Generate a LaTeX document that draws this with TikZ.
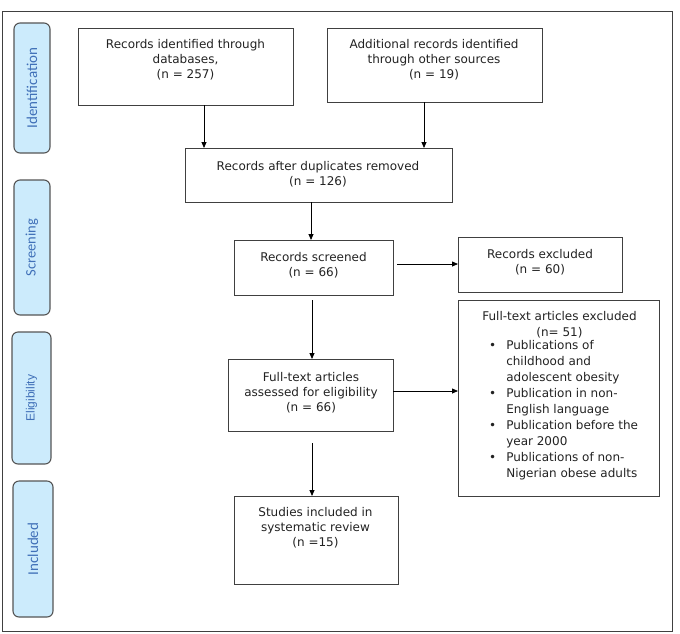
\documentclass[tikz,border=0pt]{standalone}
\usepackage{fontspec}
\setmainfont{DejaVu Sans}
\newfontfamily\calib{Carlito}
\newfontfamily\arialf{Liberation Sans}
\usetikzlibrary{arrows.meta}
\definecolor{txtc}{HTML}{222222}
\definecolor{boxc}{HTML}{404040}
\definecolor{lblfill}{HTML}{CCEBFC}
\definecolor{lbldraw}{HTML}{555555}
\definecolor{lbltxt}{HTML}{4070B8}
\begin{document}
\begin{tikzpicture}[x=1pt,y=-1pt,
  frame/.style={draw=boxc, line width=0.9pt},
  box/.style={draw=boxc, line width=0.9pt, inner sep=0, outer sep=0},
  txt/.style={align=center, font=\fontsize{12}{15}\selectfont, text=txtc, inner sep=0},
  lbl/.style={draw=lbldraw, fill=lblfill, line width=1.1pt, rounded corners=6pt, inner sep=0, outer sep=0},
  lbltext/.style={rotate=90, text=lbltxt, inner sep=0},
  arr/.style={-{Triangle[length=6pt,width=5pt]}, line width=0.8pt, black}]
\useasboundingbox (0,0) rectangle (680,633);
\draw[frame] (2,11) rectangle (672,631);

% stage labels
\node[lbl, minimum width=36pt, minimum height=130pt] (l1) at (32,88) {};
\node[lbltext, font=\calib\fontsize{15}{18}\selectfont] (l1t) at (l1.center) {Identification};
\node[lbl, minimum width=36pt, minimum height=135pt] (l2) at (32,247.5) {};
\node[lbltext, font=\calib\fontsize{14.5}{18}\selectfont] (l2t) at (l2.center) {Screening};
\node[lbl, minimum width=39pt, minimum height=132pt] (l3) at (31.5,398) {};
\node[lbltext, font=\arialf\fontsize{12}{14}\selectfont] (l3t) at (l3.center) {Eligibility};
\node[lbl, minimum width=40pt, minimum height=136pt] (l4) at (33,549) {};
\node[lbltext, font=\calib\fontsize{15}{18}\selectfont] (l4t) at (l4.center) {Included};

% boxes
\node[box, minimum width=215pt, minimum height=77pt] (b1) at (185.5,66.5) {};
\node[box, minimum width=215pt, minimum height=74pt] (b2) at (434.5,65) {};
\node[box, minimum width=267pt, minimum height=54pt] (b3) at (318.5,175) {};
\node[box, minimum width=159pt, minimum height=55pt] (b4) at (313.5,267.5) {};
\node[box, minimum width=164pt, minimum height=55pt] (b5) at (540,264.5) {};
\node[box, minimum width=201pt, minimum height=196pt] (b6) at (558.5,398) {};
\node[box, minimum width=165pt, minimum height=72pt] (b7) at (310.5,395) {};
\node[box, minimum width=164pt, minimum height=88pt] (b8) at (316,540) {};

% texts
\node[txt] (t1) at (185.5,60) {Records identified through\\databases,\\(n = 257)};
\node[txt] (t2) at (434,60) {Additional records identified\\through other sources\\(n = 19)};
\node[txt] (t3) at (318,174) {Records after duplicates removed\\(n = 126)};
\node[txt] (t4) at (313.5,265) {Records screened\\(n = 66)};
\node[txt] (t5) at (540,262) {Records excluded\\(n = 60)};
\node[txt] (t7) at (311,393) {Full-text articles\\assessed for eligibility\\(n = 66)};
\node[txt] (t8) at (315.5,528) {Studies included in\\systematic review\\(n =15)};
\node[txt, font=\fontsize{12}{16}\selectfont] (t6) at (559.5,325) {Full-text articles excluded\\(n= 51)};
\node[inner sep=0, anchor=north west, text=txtc, font=\fontsize{12}{16}\selectfont] (t6l) at (489,338.5) {%
\begin{tabular}{@{}c@{\hspace{10pt}}l@{}}
\textbullet & Publications of\\
 & childhood and\\
 & adolescent obesity\\
\textbullet & Publication in non-\\
 & English language\\
\textbullet & Publication before the\\
 & year 2000\\
\textbullet & Publications of non-\\
 & Nigerian obese adults
\end{tabular}};

% arrow positions
\coordinate (a1) at (204,0);
\coordinate (a2) at (424,0);
\coordinate (a3) at (311,0);
\coordinate (a4) at (312,0);
\coordinate (h1) at (0,264);
\coordinate (h2) at (0,391);

\draw[arr] (b1.south -| a1) -- (b3.north -| a1);
\draw[arr] (b2.south -| a2) -- (b3.north -| a2);
\draw[arr] (b3.south -| a3) -- (b4.north -| a3);
\draw[arr, shorten <=4pt] (b4.east |- h1) -- (b5.west |- h1);
\draw[arr, shorten <=5pt] (b4.south -| a4) -- (b7.north -| a4);
\draw[arr] (b7.east |- h2) -- (b6.west |- h2);
\draw[arr, shorten <=12pt] (b7.south -| a4) -- (b8.north -| a4);
\end{tikzpicture}
\end{document}
